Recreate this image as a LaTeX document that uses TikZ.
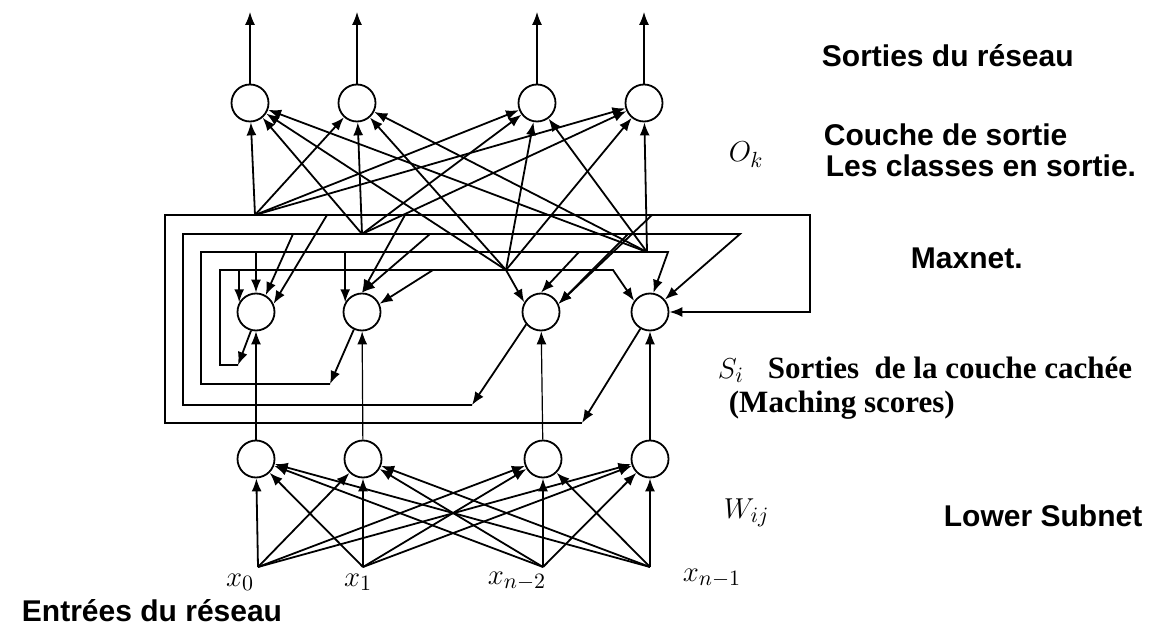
\documentclass[tikz,border=0pt]{standalone}
\usepackage{fontspec}
\setmainfont{Liberation Serif}
\setsansfont{Liberation Sans}
\usetikzlibrary{calc,arrows.meta}

\begin{document}
\begin{tikzpicture}[x=0.5pt,y=-0.5pt,line width=0.9pt,
  neuron/.style={draw,circle,minimum size=18.5pt,inner sep=0pt},
  arr/.style={-{Latex[length=6.5pt,width=5pt]}},
  thinarr/.style={arr,line width=0.6pt},
  sflbl/.style={font=\sffamily\bfseries\fontsize{15}{18}\selectfont,anchor=base west,inner sep=0pt},
  rmlbl/.style={font=\bfseries\fontsize{15.5}{18}\selectfont,anchor=base west,inner sep=0pt},
  mlbl/.style={font=\fontsize{15}{18}\selectfont,inner sep=0pt}]
\useasboundingbox (0,0) rectangle (1165,630);

% three layers of neurons, inputs and outputs
\foreach \i/\xt/\xm/\xb/\xi in {1/250/256/256/258, 2/357/362/363/363, 3/537/541/543/543, 4/644/650/650/650} {
  \node[neuron] (o\i) at (\xt,103) {};
  \node[neuron] (m\i) at (\xm,312) {};
  \node[neuron] (b\i) at (\xb,459) {};
  \coordinate (in\i) at (\xi,567);
  \coordinate (out\i) at (\xt,12);
  \draw[thinarr] (o\i) -- (out\i);
  \draw[thinarr] (b\i) -- (m\i);
}

% lower subnet
\foreach \j in {1,...,4}
  \foreach \i in {1,...,4}
    \draw[arr] (in\j) -- (b\i);

% upper subnet, taken from the maxnet lines
\coordinate (p1) at (255,215);
\coordinate (p2) at (362,234);
\coordinate (p3) at (506,270);
\coordinate (p4) at (647,252);
\foreach \j in {1,...,4}
  \foreach \i in {1,...,4}
    \draw[arr] (p\j) -- (o\i);

% maxnet loops (A outer ... D inner)
\foreach \n/\px/\py in {ltA/165/215, rtA/810/215, ltB/183/234, rtB/740/234,
    ltC/201/252, rtC/668/252, ltD/220/270, rtD/613/270,
    e1/238/365, e2/330/384, e3/472/405, e4/582/423}
  \coordinate (\n) at (\px,\py);
\draw[arr] (m1.255) -- (e1);
\draw[arr] (m2.245) -- (e2);
\draw[arr] (m3.220) -- (e3);
\draw[arr] (m4.240) -- (e4);
\draw[arr] (e4) -| (ltA) -- (rtA) |- (m4.east);
\draw[arr] (e3) -| (ltB) -- (rtB) -- (m4.40);
\draw[arr] (e2) -| (ltC) -- (rtC) -- (m4.80);
\draw[arr] (e1) -| (ltD) -- (rtD) -- (m4.145);

% drops into the maxnet neurons
\draw[arr] (m1.150 |- ltD) -- (m1.150);
\draw[arr] (m1.north |- ltC) -- (m1.north);
\draw[arr] (m2.150 |- ltC) -- (m2.150);
\draw[arr] (p3) -- (m3.150);
\foreach \n/\px/\py in {tB1/293/234, tA1/327/215, tA2/405/215, tB2/430/234,
    tD2/433/270, tC3/579/252, tB3/628/234, tA3/652/215}
  \coordinate (\n) at (\px,\py);
\draw[arr] (tB1) -- (m1.60);
\draw[arr] (tA1) -- (m1.25);
\draw[arr] (tA2) -- (m2.north);
\draw[arr] (tB2) -- (m2.north);
\draw[arr] (tD2) -- (m2.25);
\draw[arr] (tC3) -- (m3.north);
\draw[arr] (tB3) -- (m3.25);
\draw[arr] (tA3) -- (m3.25);

% input labels
\node[mlbl] (lx1) at (240,582) {$x_0$};
\node[mlbl] (lx2) at (358,582) {$x_1$};
\node[mlbl] (lx3) at (517,581) {$x_{n-2}$};
\node[mlbl] (lx4) at (712,578) {$x_{n-1}$};

% texts on the right
\node[sflbl] (tout) at (821,67) {Sorties du réseau};
\node[sflbl] (tcouche) at (823,146) {Couche de sortie};
\node[sflbl] (tclasses) at (825,177) {Les classes en sortie.};
\node[mlbl,anchor=base west] (tok) at (728,162) {$O_k$};
\node[sflbl] (tmax) at (910,269) {Maxnet.};
\node[mlbl,anchor=base west] (tsi) at (717,378) {$S_i$};
\node[rmlbl] (tcachee) at (767,378) {Sorties\ \ de la couche cachée};
\node[rmlbl] (tscores) at (728,412) {(Maching scores)};
\node[mlbl,anchor=base west] (twij) at (723,518) {$W_{ij}$};
\node[sflbl] (tlower) at (943,526) {Lower Subnet};
\node[sflbl,anchor=base east] (tin) at (283,621) {Entrées du réseau};
\end{tikzpicture}
\end{document}
